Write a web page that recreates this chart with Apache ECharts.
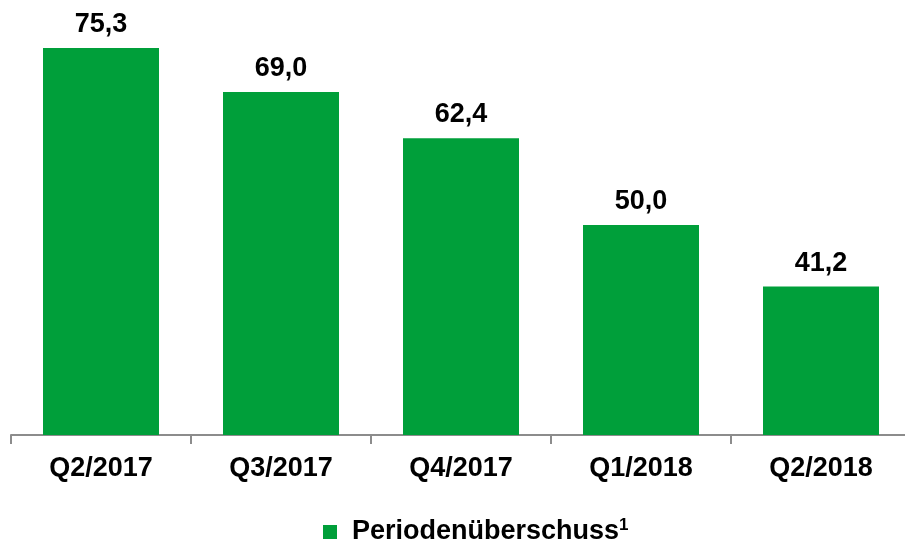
<!DOCTYPE html>
<html>
<head>
<meta charset="utf-8">
<script src="https://cdn.jsdelivr.net/npm/echarts@6/dist/echarts.min.js"></script>
<style>
  html, body { margin: 0; padding: 0; background: #fff; }
  #chart { width: 905px; height: 543px; }
</style>
</head>
<body>
<div id="chart"></div>
<script>
// 数据
const categories = ['Q2/2017', 'Q3/2017', 'Q4/2017', 'Q1/2018', 'Q2/2018']
const periodValues = [75.3, 69.0, 62.4, 50.0, 41.2]
const seriesName = 'Periodenüberschuss'

const fontFamily = '"Liberation Sans", Arial, sans-serif'
const green = '#009F3A'

const drawEcharts = (option, id) => {
  let dom = document.getElementById(id)
  if (dom === null) return
  let echart = echarts.init(dom)
  option && echart.setOption(option)
}

const option = {
  animation: false,
  grid: {
    left: 11,
    width: 900,
    top: 15,
    height: 420,
    outerBoundsMode: 'none'
  },
  legend: {
    left: 318,
    top: 512,
    itemWidth: 14,
    itemHeight: 14,
    itemGap: 10,
    icon: 'rect',
    data: [seriesName],
    formatter: (name) => '{a|' + name + '}{b|1}',
    textStyle: {
      padding: [0, 0, 0, 10],
      rich: {
        a: { fontSize: 27, fontWeight: 'bold', color: '#000', fontFamily: fontFamily, lineHeight: 30 },
        b: { fontSize: 17, fontWeight: 'bold', color: '#000', fontFamily: fontFamily, verticalAlign: 'top', lineHeight: 18 }
      }
    }
  },
  xAxis: {
    type: 'category',
    data: categories,
    axisLine: { lineStyle: { color: '#8c8c8c', width: 2 } },
    axisTick: { show: true, length: 9, lineStyle: { color: '#8c8c8c', width: 2 } },
    axisLabel: {
      margin: 20,
      color: '#000',
      fontSize: 27,
      fontWeight: 'bold',
      fontFamily: fontFamily
    }
  },
  yAxis: {
    type: 'value',
    min: 20,
    max: 80,
    show: false,
    splitLine: { show: false }
  },
  series: [
    {
      name: seriesName,
      type: 'bar',
      data: periodValues,
      barWidth: 116,
      itemStyle: { color: green },
      label: {
        show: true,
        position: 'top',
        distance: 10,
        color: '#000',
        fontSize: 27,
        fontWeight: 'bold',
        fontFamily: fontFamily,
        formatter: (p) => p.value.toFixed(1).replace('.', ',')
      }
    }
  ]
}

drawEcharts(option, 'chart')
</script>
</body>
</html>
